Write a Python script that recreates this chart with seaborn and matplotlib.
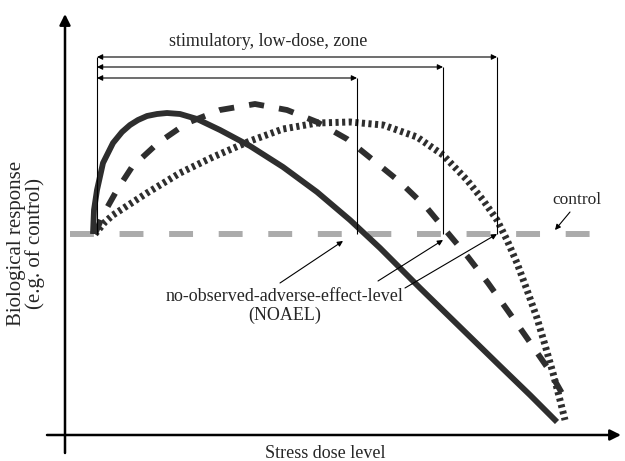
import numpy as np
import matplotlib
matplotlib.use("Agg")
import matplotlib.pyplot as plt
import seaborn as sns

# ------------------------------------------------------------------
# values (dose -> x, response -> y, y grows downward
# because the axis is inverted, so the page layout is kept)

control_level = 234
control_dose = [70, 590]

solid_dose = [93, 94, 97, 103, 113, 122, 130, 138, 147, 157, 167, 180,
              197, 220, 250, 283, 317, 350, 380, 420, 460, 500, 530, 557]
solid_resp = [234, 210, 190, 163, 143, 132, 125, 120, 116, 114, 113, 114,
              119, 130, 146, 167, 192, 220, 248, 288, 327, 366, 395, 422]

dashed_dose = [95, 103, 117, 132, 158, 187, 220, 255, 287, 317, 347, 373,
               400, 427, 447, 468, 488, 508, 527, 547, 567]
dashed_resp = [234, 215, 190, 167, 143, 123, 110, 104, 110, 122, 139, 160,
               182, 208, 232, 257, 283, 311, 338, 367, 402]

dotted_dose = [95, 105, 113, 130, 147, 180, 213, 250, 283, 317, 350, 383,
               417, 443, 467, 483, 497, 507, 517, 527, 537, 545, 553, 560, 565]
dotted_resp = [234, 222, 215, 204, 193, 173, 157, 141, 129, 123, 122, 125,
               137, 155, 180, 200, 220, 240, 263, 290, 318, 345, 373, 400, 420]

# stimulatory zone: start dose and the three NOAEL doses
zone_start = 97
noael_dose = [357, 443, 497]
zone_arrow_y = [78, 67, 57]
noael_arrow_tail = [(280, 283), (378, 281), (405, 288)]
noael_arrow_head = [(343, 241), (443, 240), (497, 234)]

CURVE = "#2e2e2e"
GREY = "#ababab"

# ------------------------------------------------------------------

sns.set_theme(style="white")
plt.rcParams["font.family"] = ["Liberation Serif", "DejaVu Serif"]

fig = plt.figure(figsize=(6.25, 4.61), dpi=100)
ax = fig.add_axes([0, 0, 1, 1])
ax.set_xlim(0, 625)
ax.set_ylim(461, 0)
ax.axis("off")

# control line
sns.lineplot(x=control_dose, y=[control_level] * 2, ax=ax, color=GREY,
             lw=4.3, linestyle=(0, (4.0, 4.3)), solid_capstyle="butt",
             dash_capstyle="butt", sort=False, estimator=None)

# response curves
sns.lineplot(x=dotted_dose, y=dotted_resp, ax=ax, color=CURVE, lw=5.0,
             linestyle=(0, (0.45, 0.5)), dash_capstyle="butt",
             sort=False, estimator=None)
sns.lineplot(x=dashed_dose, y=dashed_resp, ax=ax, color=CURVE, lw=4.2,
             linestyle=(0, (2.6, 2.6)), dash_capstyle="butt",
             sort=False, estimator=None)
sns.lineplot(x=solid_dose, y=solid_resp, ax=ax, color=CURVE, lw=4.2,
             solid_capstyle="butt", solid_joinstyle="round",
             sort=False, estimator=None)

# zone markers
ax.vlines(zone_start, min(zone_arrow_y), control_level, color="black", lw=0.8)
for xd, ya in zip(noael_dose, zone_arrow_y):
    ax.vlines(xd, ya, control_level, color="black", lw=0.8)
    ax.annotate("", xy=(xd, ya), xytext=(zone_start, ya),
                arrowprops=dict(arrowstyle="<|-|>", lw=0.8, color="black",
                                mutation_scale=8, shrinkA=0, shrinkB=0))

for tail, head in zip(noael_arrow_tail, noael_arrow_head):
    ax.annotate("", xy=head, xytext=tail,
                arrowprops=dict(arrowstyle="-|>", lw=0.8, color="black",
                                mutation_scale=8, shrinkA=0, shrinkB=0))

# control label arrow
ax.annotate("", xy=(555, 230), xytext=(570, 212),
            arrowprops=dict(arrowstyle="-|>", lw=0.8, color="black",
                            mutation_scale=8, shrinkA=0, shrinkB=0))

# axes with arrow heads
ax.annotate("", xy=(65, 14), xytext=(65, 453),
            arrowprops=dict(arrowstyle="-|>", lw=1.8, color="black",
                            mutation_scale=16, shrinkA=0, shrinkB=0))
ax.annotate("", xy=(621, 435), xytext=(47, 435),
            arrowprops=dict(arrowstyle="-|>", lw=1.8, color="black",
                            mutation_scale=16, shrinkA=0, shrinkB=0))

# texts
ax.text(268, 42, "stimulatory, low-dose, zone", ha="center", va="center",
        fontsize=13)
ax.text(577, 200, "control", ha="center", va="center", fontsize=12.5)
ax.text(285, 306, "no-observed-adverse-effect-level\n(NOAEL)",
        ha="center", va="center", fontsize=13, linespacing=1.2)
ax.text(26, 243, "Biological response\n(e.g. of control)", ha="center",
        va="center", rotation=90, fontsize=15, linespacing=0.95)
ax.text(325, 453, "Stress dose level", ha="center", va="center",
        fontsize=13)

plt.savefig("out.png", dpi=100)
plt.close()
